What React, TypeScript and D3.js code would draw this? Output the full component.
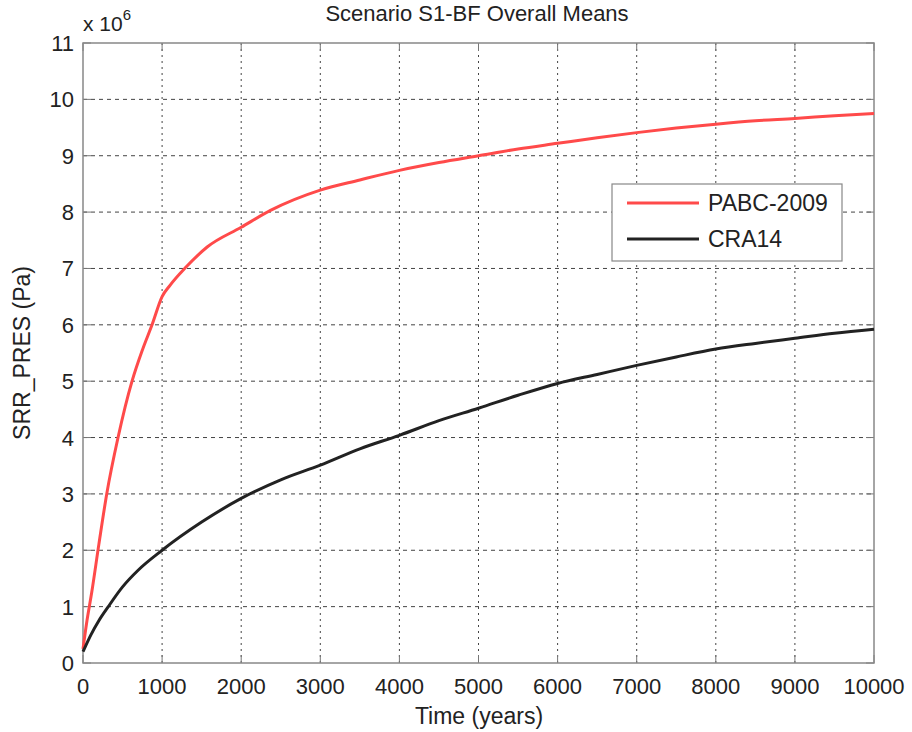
import React from "react";
import * as d3 from "d3";

const redT = [0, 50, 110, 200, 300, 443, 620, 750, 873, 1000, 1100, 1300, 1570, 2000, 2370, 3000, 3500, 4000, 4500, 5000, 5500, 6000, 6500, 7000, 7500, 8000, 8500, 9000, 9500, 10000];
const redV = [0.25, 0.75, 1.25, 2.1, 3.0, 4.0, 5.0, 5.55, 6.0, 6.5, 6.7, 7.02, 7.38, 7.73, 8.03, 8.39, 8.57, 8.74, 8.88, 9.0, 9.12, 9.22, 9.32, 9.41, 9.49, 9.56, 9.62, 9.66, 9.71, 9.75];
const blackT = [0, 100, 200, 320, 500, 700, 1000, 1500, 2000, 2500, 3000, 3500, 4000, 4500, 5000, 5500, 6000, 6500, 7000, 7500, 8000, 8500, 9000, 9500, 10000];
const blackV = [0.2, 0.5, 0.75, 1.0, 1.35, 1.65, 2.0, 2.5, 2.92, 3.25, 3.51, 3.8, 4.04, 4.3, 4.52, 4.75, 4.96, 5.12, 5.28, 5.43, 5.57, 5.67, 5.76, 5.85, 5.92];
const xTicks = [0, 1000, 2000, 3000, 4000, 5000, 6000, 7000, 8000, 9000, 10000];
const yTicks = [0, 1, 2, 3, 4, 5, 6, 7, 8, 9, 10, 11];
const seriesNames = ["PABC-2009", "CRA14"];
const seriesColors = ["#ff4a4a", "#222222"];

export default function App() {
  const W = 912, H = 732;
  const L = 83, R = 874, T = 43, B = 663;
  const x = d3.scaleLinear().domain([0, 10000]).range([L, R]);
  const y = d3.scaleLinear().domain([0, 11]).range([B, T]);
  const line = d3.line<[number, number]>().x(d => x(d[0])).y(d => y(d[1])).curve(d3.curveMonotoneX);
  const red = redT.map((t, i) => [t, redV[i]] as [number, number]);
  const black = blackT.map((t, i) => [t, blackV[i]] as [number, number]);
  const font = "Liberation Sans, Arial, sans-serif";
  return (
    <svg width={W} height={H} style={{ position: "absolute", left: 0, top: 0, background: "#fff" }} fontFamily={font}>
      <rect x={0} y={0} width={W} height={H} fill="#fff" />
      {xTicks.slice(1, -1).map(t => (
        <line key={"gx" + t} x1={x(t)} x2={x(t)} y1={T} y2={B} stroke="#444" strokeWidth={1} strokeDasharray="2,4" />
      ))}
      {yTicks.slice(1, -1).map(v => (
        <line key={"gy" + v} x1={L} x2={R} y1={y(v)} y2={y(v)} stroke="#444" strokeWidth={1} strokeDasharray="4,4" />
      ))}
      {xTicks.map(t => (
        <g key={"tx" + t}>
          <line x1={x(t)} x2={x(t)} y1={B} y2={B - 8} stroke="#777" />
          <line x1={x(t)} x2={x(t)} y1={T} y2={T + 8} stroke="#777" />
          <text x={x(t)} y={B + 31} textAnchor="middle" fontSize={22} fill="#222">{t}</text>
        </g>
      ))}
      {yTicks.map(v => (
        <g key={"ty" + v}>
          <line x1={L} x2={L + 8} y1={y(v)} y2={y(v)} stroke="#777" />
          <line x1={R} x2={R - 8} y1={y(v)} y2={y(v)} stroke="#777" />
          <text x={L - 9} y={y(v) + 8} textAnchor="end" fontSize={22} fill="#222">{v}</text>
        </g>
      ))}
      <rect x={L} y={T} width={R - L} height={B - T} fill="none" stroke="#888" strokeWidth={1.5} />
      <path d={line(red) || ""} fill="none" stroke={seriesColors[0]} strokeWidth={3} />
      <path d={line(black) || ""} fill="none" stroke={seriesColors[1]} strokeWidth={3} />
      <rect x={612} y={184} width={230} height={77} fill="#fff" stroke="#888" strokeWidth={1.2} />
      {seriesNames.map((n, i) => (
        <g key={n}>
          <line x1={627} x2={699} y1={203 + i * 36} y2={203 + i * 36} stroke={seriesColors[i]} strokeWidth={3} />
          <text x={708} y={211 + i * 36} fontSize={23} fill="#222">{n}</text>
        </g>
      ))}
      <text x={477} y={21} textAnchor="middle" fontSize={22} fill="#222">Scenario S1-BF Overall Means</text>
      <text x={83} y={31} fontSize={21} fill="#222">x 10<tspan dy={-11} fontSize={15}>6</tspan></text>
      <text x={479} y={724} textAnchor="middle" fontSize={23} fill="#222">Time (years)</text>
      <text transform={`translate(30,${(T + B) / 2}) rotate(-90)`} textAnchor="middle" fontSize={23} fill="#222">SRR_PRES (Pa)</text>
    </svg>
  );
}
